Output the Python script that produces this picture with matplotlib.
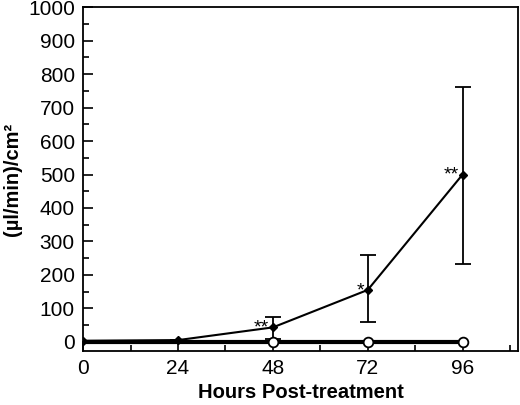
import numpy as np
import matplotlib
matplotlib.use("Agg")
import matplotlib.pyplot as plt
from matplotlib.ticker import MultipleLocator

plt.rcParams['font.family'] = ['Liberation Sans', 'DejaVu Sans']

# treated group (filled diamonds)
hours = [0, 24, 48, 72, 96]
treated = [3, 5, 43, 155, 500]
treated_err_low = [0, 0, 35, 97, 267]
treated_err_high = [0, 0, 30, 105, 263]
stars = ["", "", "**", "*", "**"]

# control group (open circles)
control = [0, 0, 0, 0, 0]

fig = plt.figure(figsize=(5.2, 4.05), dpi=100)
ax = fig.add_axes([0.16, 0.133, 0.836, 0.849])

ax.plot(hours, control, color='black', lw=3, zorder=2)
ax.plot(hours[2:], control[2:], 'o', ms=7, mfc='white', mec='black', mew=1.3, zorder=4)

ax.errorbar(hours, treated, yerr=[treated_err_low, treated_err_high],
            fmt='D', ms=4.5, color='black', lw=1.3, capsize=6, capthick=1.3, zorder=3)
ax.plot(hours, treated, color='black', lw=1.5, zorder=3)

for h, v, s in zip(hours, treated, stars):
    if s:
        ax.text(h - 1.0, v - 16, s, ha='right', va='baseline', fontsize=14)

ax.set_xlim(0, 110)
ax.set_ylim(-28, 1000)
ax.xaxis.set_major_locator(MultipleLocator(24))
ax.xaxis.set_minor_locator(MultipleLocator(12))
ax.yaxis.set_major_locator(MultipleLocator(100))
ax.yaxis.set_minor_locator(MultipleLocator(50))
ax.tick_params(which='both', direction='in', top=False, right=False, labelsize=15, width=1.2)
ax.tick_params(which='major', length=7, pad=6)
ax.tick_params(which='minor', length=4)
for sp in ax.spines.values():
    sp.set_linewidth(1.3)

ax.set_xlabel("Hours Post-treatment", fontsize=14.5, fontweight='bold', labelpad=3)
ax.set_ylabel("(µl/min)/cm²", fontsize=14.5, fontweight='bold', labelpad=4)

fig.savefig("out.png", dpi=100)
